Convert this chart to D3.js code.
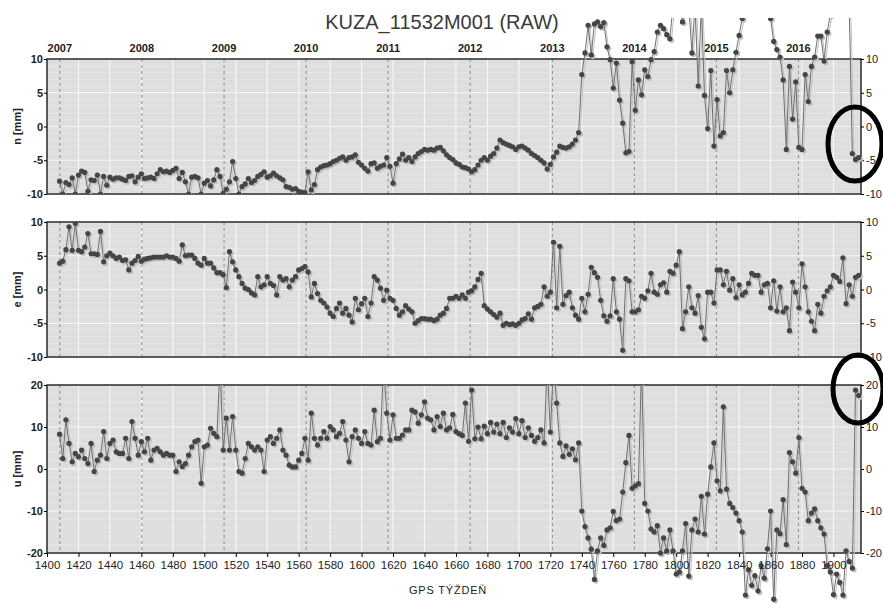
<!DOCTYPE html>
<html>
<head>
<meta charset="utf-8">
<script src="https://cdn.jsdelivr.net/npm/d3@7"></script>
<style>
body { margin: 0; background: #fff; }
svg text { font-family: "Liberation Sans", Arial, sans-serif; }
</style>
</head>
<body>
<div id="chart"></div>
<script>
//station solution, one sample every second GPS week (1408 .. 1916)
var title = "KUZA_11532M001 (RAW)";
var xLabel = "GPS TÝŽDEŇ";
var weeks = d3.range(1408, 1917, 2);

//north component [mm]
var nValues = [
    -8.1, -10.0, -8.3, -8.6, -7.6, -10.0, -7.2, -6.6, -6.8, -9.6,
    -7.9, -8.0, -7.2, -10.0, -7.4, -8.7, -7.5, -7.8, -7.6, -7.6,
    -7.8, -8.0, -7.4, -7.3, -8.2, -7.5, -7.0, -7.7, -7.6, -7.5,
    -7.7, -7.0, -6.4, -6.7, -6.6, -6.8, -6.5, -6.2, -7.7, -6.8,
    -8.2, -10.0, -7.5, -7.4, -7.6, -10.0, -8.4, -8.0, -8.8, -7.9,
    -6.4, -7.4, -9.9, -9.3, -8.2, -5.2, -7.7, -10.0, -8.9, -8.5,
    -7.7, -8.3, -8.0, -7.4, -7.1, -6.7, -7.5, -7.3, -6.9, -7.3,
    -7.6, -7.9, -8.9, -9.0, -9.3, -9.2, -9.6, -9.7, -9.8, -6.7,
    -9.4, -8.6, -6.4, -6.0, -5.8, -5.7, -5.5, -5.2, -5.0, -4.7,
    -4.5, -5.0, -4.6, -4.5, -4.2, -5.3, -5.7, -6.2, -6.6, -5.5,
    -5.4, -6.2, -5.9, -5.7, -4.6, -5.9, -8.4, -5.5, -4.8, -4.1,
    -5.0, -4.6, -5.2, -4.5, -4.0, -3.7, -3.4, -3.5, -3.4, -3.5,
    -3.2, -3.1, -3.6, -4.2, -4.6, -4.9, -5.4, -5.6, -6.0, -6.1,
    -6.3, -6.7, -6.4, -5.7, -5.0, -4.6, -5.0, -4.4, -4.0, -3.2,
    -2.0, -2.4, -2.6, -2.8, -3.0, -3.4, -3.0, -2.9, -3.2, -3.5,
    -4.0, -4.3, -4.6, -5.0, -5.4, -6.3, -5.6, -4.5, -3.8, -2.9,
    -3.1, -3.2, -3.0, -2.6, -2.0, -0.9, 7.7, 10.9, 15.0, 10.6,
    15.2, 15.5, 14.8, 15.4, 11.8, 9.9, 5.7, 9.4, 3.9, 0.5,
    -3.9, -3.7, 9.6, 2.4, 6.9, 4.7, 8.4, 7.4, 9.9, 11.1,
    14.0, 15.0, 14.5, 13.6, 13.0, 18, 18, 18, 15.5, 18,
    18, 10.9, 18, 6.0, 18, 4.6, -0.3, 8.3, -2.9, 4.0,
    -1.4, -0.9, 8.3, 5.0, 8.4, 11.0, 13.5, 16.0, 18, 18,
    18, 18, 18, 18, 18, 18, 16.0, 12.6, 11.4, 10.3,
    6.9, -3.4, 8.9, 1.1, 6.6, -3.1, -3.4, 7.7, 3.7, 8.9,
    10.3, 13.4, 13.4, 9.7, 14.0, 16.5, 18, 18, 18, 18,
    18, 18, -4.0, -4.9, -4.6
];

//east component [mm]
var eValues = [
    3.9, 4.2, 5.9, 9.3, 5.8, 9.8, 5.8, 5.6, 6.3, 8.3,
    5.3, 5.3, 5.2, 8.6, 4.1, 5.0, 5.4, 5.0, 4.6, 4.8,
    4.3, 4.4, 2.9, 3.9, 4.3, 4.9, 4.2, 4.5, 4.6, 4.7,
    4.8, 4.8, 4.8, 4.8, 5.0, 4.8, 4.8, 4.6, 4.2, 6.6,
    5.0, 5.1, 5.1, 4.6, 3.9, 3.6, 4.6, 3.9, 3.9, 3.2,
    2.5, 2.5, 2.2, 0.3, 5.6, 4.1, 2.9, 1.9, 0.9, 0.2,
    0.0, -0.5, -0.8, 1.9, 0.4, 0.7, 1.9, 0.9, 0.6, -0.8,
    1.9, 1.4, 1.6, 0.4, 1.4, 1.9, 2.9, 3.1, 3.4, 2.6,
    -1.1, 0.9, -0.6, -1.6, -2.0, -2.6, -3.5, -4.0, -2.8, -2.0,
    -3.5, -2.8, -3.8, -4.8, -1.3, -3.0, -2.1, -1.3, -4.0, -2.0,
    1.9, 1.4, 0.2, -1.6, -0.1, -1.3, -1.6, -2.8, -3.8, -3.3,
    -2.4, -2.9, -3.3, -5.0, -4.6, -4.3, -4.3, -4.4, -4.4, -4.6,
    -4.4, -3.8, -3.5, -2.8, -1.3, -1.3, -1.0, -1.3, -0.8, -1.3,
    -0.4, -0.2, 0.4, 1.5, 2.4, -2.4, -2.9, -3.3, -3.7, -4.1,
    -3.5, -5.3, -5.0, -5.2, -5.1, -5.3, -5.0, -4.5, -4.3, -3.6,
    -4.4, -2.7, -2.5, -2.2, 0.4, -1.0, -0.4, 7.0, -2.7, 6.4,
    -2.2, -0.9, -0.4, -2.7, -3.8, -4.4, -1.3, -3.3, -0.7, 3.3,
    2.5, 1.8, -1.6, -3.9, -4.7, -3.9, 1.6, -3.3, -4.4, -9.0,
    1.6, 1.3, -3.3, -3.3, -3.0, -1.0, -1.3, -0.2, 2.4, -0.4,
    -0.7, 0.7, 1.0, -0.4, 2.7, 2.4, 3.6, 5.6, -5.8, -3.3,
    0.4, -2.7, -3.5, -0.9, -5.6, -7.3, -0.4, -0.4, -2.0, 2.9,
    2.9, 0.7, 2.7, -0.1, 1.6, -1.2, 0.7, -0.8, -0.4, 0.9,
    2.4, 2.1, 2.1, -0.4, 0.7, 0.9, -2.7, 1.3, -3.2, 0.4,
    -3.3, -2.7, -6.1, 1.1, -0.4, -2.7, 3.8, 0.4, -3.3, -4.7,
    -6.1, -2.2, -3.5, -1.0, -0.2, 0.4, 2.1, 1.8, 1.2, 4.7,
    -2.1, 0.7, -1.0, 1.8, 2.1
];

//up component [mm]
var uValues = [
    8.3, 2.5, 11.7, 6.1, 1.7, 3.7, 2.9, 4.5, 2.5, 1.3,
    6.1, -0.6, 2.1, 3.3, 8.9, 2.5, 6.1, 6.9, 4.1, 3.7,
    3.7, 7.3, 2.5, 11.3, 7.3, 3.3, 6.5, 4.1, 7.3, 2.1,
    4.5, 4.9, 4.1, 3.3, 3.7, 3.3, 3.3, -0.6, 1.7, 0.6,
    1.3, 3.3, 5.3, 6.5, 6.9, -3.4, 5.3, 5.7, 9.7, 8.5,
    7.7, 25, 4.5, 12.1, 4.5, 12.5, 4.5, -0.6, -1.0, 2.5,
    6.1, 5.3, 4.5, 5.3, 4.5, -0.6, 6.9, 7.7, 6.1, 7.3,
    9.3, 4.5, 3.3, 0.9, 0.5, 0.5, 2.1, 3.7, 7.3, 2.1,
    13.3, 7.3, 5.7, 7.3, 8.9, 7.3, 10.1, 9.3, 7.7, 8.5,
    11.3, 6.9, 1.7, 7.7, 9.3, 7.3, 6.1, 8.9, 6.1, 5.7,
    14.0, 6.5, 7.3, 25, 13.3, 6.9, 12.9, 7.3, 7.3, 8.1,
    9.3, 9.3, 14.0, 13.6, 10.9, 12.9, 16.0, 12.1, 11.7, 9.3,
    12.5, 10.1, 13.3, 9.3, 9.8, 13.0, 8.9, 8.4, 8.0, 15.7,
    6.6, 18.8, 7.2, 10.0, 7.2, 10.2, 8.4, 11.1, 8.8, 10.7,
    8.4, 11.1, 7.5, 9.8, 8.8, 12.0, 8.4, 11.5, 7.5, 9.8,
    8.0, 6.6, 7.5, 9.3, 6.2, 25, 8.8, 25, 15.7, 6.2,
    3.0, 5.5, 3.5, 4.8, 2.2, 6.2, -10.0, -13.7, -16.4, -19.1,
    -26.3, -19.5, -16.4, -18.2, -14.5, -14.0, -10.1, -12.3, -11.9, -5.5,
    1.5, 8.0, -4.6, -4.0, -3.5, 25, -8.2, -10.0, -14.3, -15.0,
    -13.5, -20.0, -16.4, -19.5, -14.5, -19.5, -25.0, -24.5, -19.5, -13.0,
    -25.5, -14.5, -11.9, -15.0, -6.5, -15.5, -6.0, 0.5, 6.2, -2.8,
    -5.2, 14.8, -4.8, -8.2, -9.2, -10.5, -12.3, -15.0, -30.0, -24.0,
    -27.7, -25.4, -29.0, -23.0, -26.0, -19.0, -10.0, -31.0, -14.5, -15.4,
    -7.3, -18.0, 3.9, 1.7, -1.0, 7.5, -4.6, -5.5, -12.3, -10.5,
    -9.5, -12.3, -14.0, -15.5, -23.0, -24.5, -29.9, -25.0, -27.0, -30.0,
    -19.5, -22.0, -23.6, 18.8, 17.5
];

var years = [2007, 2008, 2009, 2010, 2011, 2012, 2013, 2014, 2015, 2016];
var weekTicks = [1400, 1420, 1440, 1460, 1480, 1500, 1520, 1540, 1560, 1580, 1600, 1620, 1640,
    1660, 1680, 1700, 1720, 1740, 1760, 1780, 1800, 1820, 1840, 1860, 1880, 1900];
var neTicks = [10, 5, 0, -5, -10];
var uTicks = [20, 10, 0, -10, -20];

//GPS week of the 1st of January of a year
function gpsWeek(year) {
    return (Date.UTC(year, 0, 1) - Date.UTC(1980, 0, 6)) / (7 * 86400000);
}

//plain hyphen minus, like the original labels
function plain(d) {
    return String(d);
}

var width = 883;
var height = 604;

var svg = d3.select("#chart").append("svg")
    .attr("width", width)
    .attr("height", height);

var x = d3.scaleLinear().domain([1400, 1917.5]).range([47, 861]);

var panels = [
    { name: "n [mm]", values: nValues, ticks: neTicks, top: 59, bottom: 194, clipTop: 18, clipBottom: 194, minor: 1 },
    { name: "e [mm]", values: eValues, ticks: neTicks, top: 222, bottom: 357, clipTop: 222, clipBottom: 357, minor: 1 },
    { name: "u [mm]", values: uValues, ticks: uTicks, top: 385, bottom: 553, clipTop: 385, clipBottom: 604, minor: 2 }
];

var defs = svg.append("defs");

panels.forEach(function(p, i) {
    var lo = d3.min(p.ticks), hi = d3.max(p.ticks);
    var y = d3.scaleLinear().domain([lo, hi]).range([p.bottom, p.top]);
    var g = svg.append("g").attr("class", "panel");

    //background
    g.append("rect")
        .attr("x", x.range()[0])
        .attr("y", p.top)
        .attr("width", x.range()[1] - x.range()[0])
        .attr("height", p.bottom - p.top)
        .style("fill", "#dedede");

    //faint minor lines
    g.selectAll(".minor")
        .data(d3.range(lo, hi, p.minor).filter(function(v) { return p.ticks.indexOf(v) < 0; }))
        .enter().append("line")
        .attr("x1", x.range()[0]).attr("x2", x.range()[1])
        .attr("y1", function(d) { return y(d); }).attr("y2", function(d) { return y(d); })
        .style("stroke", "#e6e6e6").style("stroke-width", 1);

    //white grid
    g.selectAll(".vgrid")
        .data(weekTicks.slice(1))
        .enter().append("line")
        .attr("x1", function(d) { return x(d); }).attr("x2", function(d) { return x(d); })
        .attr("y1", p.top).attr("y2", p.bottom)
        .style("stroke", "#f6f6f6").style("stroke-width", 1.2);
    g.selectAll(".hgrid")
        .data(p.ticks)
        .enter().append("line")
        .attr("x1", x.range()[0]).attr("x2", x.range()[1])
        .attr("y1", function(d) { return y(d); }).attr("y2", function(d) { return y(d); })
        .style("stroke", "#f6f6f6").style("stroke-width", 1.2);

    //year boundaries
    g.selectAll(".year")
        .data(years)
        .enter().append("line")
        .attr("x1", function(d) { return x(gpsWeek(d)); }).attr("x2", function(d) { return x(gpsWeek(d)); })
        .attr("y1", p.top).attr("y2", p.bottom)
        .style("stroke", "#8c8c8c").style("stroke-dasharray", "3,3").style("stroke-width", 1);

    //frame
    g.append("rect")
        .attr("x", x.range()[0])
        .attr("y", p.top)
        .attr("width", x.range()[1] - x.range()[0])
        .attr("height", p.bottom - p.top)
        .style("fill", "none")
        .style("stroke", "#2a2a2a")
        .style("stroke-width", 1.5);

    //left axis
    var left = g.append("g")
        .attr("transform", "translate(" + x.range()[0] + ",0)")
        .call(d3.axisLeft(y).tickValues(p.ticks).tickFormat(plain).tickSize(3).tickPadding(1));
    left.select(".domain").remove();
    left.selectAll("text").style("font-size", "11px").style("font-weight", "bold").style("fill", "#222");

    //right axis
    var right = g.append("g")
        .attr("transform", "translate(" + x.range()[1] + ",0)")
        .call(d3.axisRight(y).tickValues(p.ticks).tickFormat(plain).tickSize(3).tickPadding(2));
    right.select(".domain").remove();
    right.selectAll("text").style("font-size", "11px").style("fill", "#222");

    //axis title
    g.append("text")
        .attr("transform", "translate(21," + ((p.top + p.bottom) / 2) + ") rotate(-90)")
        .attr("text-anchor", "middle")
        .style("font-size", "11px")
        .style("font-weight", "bold")
        .style("fill", "#222")
        .text(p.name);

    //series, clipped to the drawing area of the panel
    defs.append("clipPath").attr("id", "clip" + i)
        .append("rect")
        .attr("x", x.range()[0] - 3)
        .attr("y", p.clipTop)
        .attr("width", x.range()[1] - x.range()[0] + 6)
        .attr("height", p.clipBottom - p.clipTop);

    var pts = weeks.map(function(w, j) { return [w, p.values[j]]; });
    var line = d3.line()
        .x(function(d) { return x(d[0]); })
        .y(function(d) { return y(d[1]); });

    var data = g.append("g").attr("clip-path", "url(#clip" + i + ")");

    //soft shadow under the series
    var shadow = data.append("g").attr("transform", "translate(1.6,1.6)");
    shadow.append("path").datum(pts)
        .attr("d", line)
        .style("fill", "none").style("stroke", "#c2c2c2").style("stroke-width", 1);
    shadow.selectAll("circle").data(pts)
        .enter().append("circle")
        .attr("cx", function(d) { return x(d[0]); })
        .attr("cy", function(d) { return y(d[1]); })
        .attr("r", 2.6)
        .style("fill", "#bdbdbd");

    data.append("path").datum(pts)
        .attr("d", line)
        .style("fill", "none").style("stroke", "#6e6e6e").style("stroke-width", 1);
    data.selectAll(".pt").data(pts)
        .enter().append("circle")
        .attr("class", "pt")
        .attr("cx", function(d) { return x(d[0]); })
        .attr("cy", function(d) { return y(d[1]); })
        .attr("r", 2.6)
        .style("fill", "#454545");
});

//GPS week axis under the last panel
var bottom = svg.append("g")
    .attr("transform", "translate(0," + panels[2].bottom + ")")
    .call(d3.axisBottom(x).tickValues(weekTicks).tickFormat(d3.format("d")).tickSize(4).tickPadding(4));
bottom.select(".domain").remove();
bottom.selectAll("text").style("font-size", "11.5px").style("fill", "#222");

svg.append("text")
    .attr("x", 448)
    .attr("y", 594)
    .attr("text-anchor", "middle")
    .style("font-size", "11px")
    .style("letter-spacing", "0.8px")
    .style("fill", "#222")
    .text(xLabel);

//years on top
svg.selectAll(".ylbl")
    .data(years)
    .enter().append("text")
    .attr("class", "ylbl")
    .attr("x", function(d) { return x(gpsWeek(d)); })
    .attr("y", 52)
    .attr("text-anchor", "middle")
    .style("font-size", "11px")
    .style("font-weight", "bold")
    .style("fill", "#222")
    .text(function(d) { return d; });

svg.append("text")
    .attr("x", 442)
    .attr("y", 29)
    .attr("text-anchor", "middle")
    .style("font-size", "20px")
    .style("fill", "#3a3a3a")
    .text(title);

//hand drawn marks around the last samples
svg.append("ellipse")
    .attr("cx", 855).attr("cy", 144).attr("rx", 27).attr("ry", 37)
    .style("fill", "none").style("stroke", "#000").style("stroke-width", 5);
svg.append("ellipse")
    .attr("cx", 858).attr("cy", 389).attr("rx", 25).attr("ry", 34)
    .style("fill", "none").style("stroke", "#000").style("stroke-width", 5);
</script>
</body>
</html>
